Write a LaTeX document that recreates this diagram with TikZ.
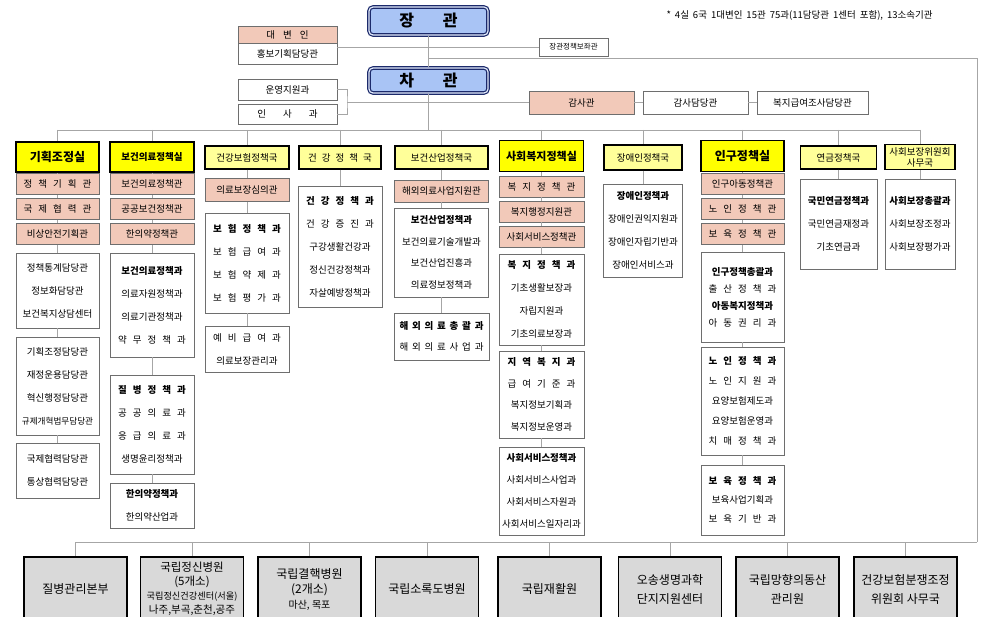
\documentclass[tikz,border=0pt]{standalone}
\usepackage{fontspec}
\setmainfont{Noto Sans CJK KR}
\usepackage{tikz}
\definecolor{salmonpink}{HTML}{F2C9B9}
\definecolor{brightyellow}{HTML}{FFFF00}
\definecolor{paleyellow}{HTML}{FFFF99}
\definecolor{chiefblue}{HTML}{A9C4F5}
\definecolor{chiefnavy}{HTML}{1C2A6B}
\definecolor{agencygray}{HTML}{D9D9D9}
\definecolor{linegray}{HTML}{A6A6A6}
\definecolor{boxgray}{HTML}{6E6E6E}
\newcommand\wsp[1]{\spaceskip #1\relax}
\tikzset{pitch/.style={font=\fontsize{9.5}{#1}\selectfont\wsp{6pt}}}

\begin{document}
\begin{tikzpicture}[x=1pt,y=-1pt,node distance=25pt]
\tikzstyle{conn}=[draw=linegray,line width=0.9pt]
\tikzstyle{chief}=[draw=chiefnavy,line width=1.2pt,double=chiefblue!35!white,double distance=1.2pt,
                   rounded corners=4pt,fill=chiefblue,minimum width=119,minimum height=28,
                   font=\bfseries\fontsize{16}{18}\selectfont]
\tikzstyle{office}=[draw=black,line width=1.6pt,fill=brightyellow,align=center,inner sep=1pt,
                    font=\bfseries\fontsize{12}{14}\selectfont]
\tikzstyle{bureau}=[draw=black,line width=1.3pt,fill=paleyellow,align=center,inner sep=1pt,
                    font=\fontsize{9.5}{10.5}\selectfont\wsp{5pt}]
\tikzstyle{salmon}=[draw=boxgray,line width=0.7pt,fill=salmonpink,inner sep=1pt,minimum height=21,
                    font=\fontsize{9.5}{11}\selectfont\wsp{6pt}]
\tikzstyle{dept}=[draw=boxgray,line width=0.8pt,fill=white,align=center,inner sep=1pt,
                  font=\fontsize{9.5}{23}\selectfont\wsp{6pt}]
\tikzstyle{agency}=[draw=black,line width=1.8pt,fill=agencygray,align=center,inner sep=1pt,
                    minimum width=103,minimum height=64,font=\fontsize{12}{15}\selectfont]
\useasboundingbox (0,0) rectangle (987,617);
\clip (0,0) rectangle (987,617);
\fill[white] (0,0) rectangle (987,617);

\node[chief] (jang) at (428.5,21) {장\hspace{1.8em}관};
\node[chief,minimum height=25] (cha) at (428.5,80.5) {차\hspace{1.8em}관};
\node[anchor=west,font=\fontsize{9.5}{11}\selectfont\wsp{4pt}] (note) at (663,15) {* 4실 6국 1대변인 15관 75과(11담당관 1센터 포함), 13소속기관};
\node[salmon,minimum width=99,minimum height=17,font=\fontsize{9.5}{11}\selectfont\wsp{8pt}] (spk) at (287.5,34.5) {대 변 인};
\node[dept,minimum width=99,minimum height=21] (pr) at (287.5,53.5) {홍보기획담당관};
\node[dept,minimum width=69,minimum height=18,font=\fontsize{7.5}{9}\selectfont] (aide) at (573.5,47) {장관정책보좌관};
\node[dept,minimum width=99,minimum height=21] (ops) at (287.5,89.5) {운영지원과};
\node[dept,minimum width=99,minimum height=20,font=\fontsize{9.5}{11}\selectfont\wsp{17pt}] (hr) at (287.5,114) {인 사 과};
\node[salmon,minimum width=105,minimum height=23] (audit) at (581.5,102.5) {감사관};
\node[dept,minimum width=105,minimum height=23] (auditoff) at (695.5,102.5) {감사담당관};
\node[dept,minimum width=111,minimum height=23] (fraud) at (812.5,102.5) {복지급여조사담당관};

\node[office,minimum width=83,minimum height=30] (h1) at (57.5,157) {기획조정실};
\node[salmon,minimum width=83] (c1a) at (57.5,184) {정 책 기 획 관};
\node[salmon,minimum width=83] (c1b) [below of=c1a] {국 제 협 력 관};
\node[salmon,minimum width=83] (c1c) [below of=c1b] {비상안전기획관};
\node[dept,minimum width=83,minimum height=75] (c1d) at (57.5,290.5) {정책통계담당관\\정보화담당관\\보건복지상담센터};
\node[dept,minimum width=83,minimum height=98] (c1e) at (57.5,386) {기획조정담당관\\재정운용담당관\\혁신행정담당관\\{\fontsize{8.6}{23}\selectfont 규제개혁법무담당관}};
\node[dept,minimum width=83,minimum height=55] (c1f) at (57.5,470.5) {국제협력담당관\\통상협력담당관};

\node[office,minimum width=84,minimum height=30,font=\bfseries\fontsize{9.5}{11}\selectfont] (h2) at (152,157) {보건의료정책실};
\node[salmon,minimum width=84] (c2a) at (152,184) {보건의료정책관};
\node[salmon,minimum width=84] (c2b) [below of=c2a] {공공보건정책관};
\node[salmon,minimum width=84] (c2c) [below of=c2b] {한의약정책관};
\node[dept,minimum width=84,minimum height=104] (c2d) at (152,305) {\textbf{보건의료정책과}\\의료자원정책과\\의료기관정책과\\약 무 정 책 과};
\node[dept,minimum width=84,minimum height=99] (c2e) at (152,424.5) {\textbf{질 병 정 책 과}\\공 공 의 료 과\\응 급 의 료 과\\생명윤리정책과};
\node[dept,minimum width=84,minimum height=45] (c2f) at (152,505.5) {\textbf{한의약정책과}\\한의약산업과};

\node[bureau,minimum width=84,minimum height=23] (h3) at (247,157.5) {건강보험정책국};
\node[salmon,minimum width=84,minimum height=23] (c3a) at (247,190) {의료보장심의관};
\node[dept,minimum width=84,minimum height=100] (c3b) at (247,263) {\textbf{보 험 정 책 과}\\보 험 급 여 과\\보 험 약 제 과\\보 험 평 가 과};
\node[dept,minimum width=84,minimum height=46] (c3c) at (247,349) {예 비 급 여 과\\의료보장관리과};

\node[bureau,minimum width=82,minimum height=23] (h4) at (340,157.5) {건 강 정 책 국};
\node[dept,minimum width=84,minimum height=121] (c4a) at (340,246.5) {\textbf{건 강 정 책 과}\\건 강 증 진 과\\구강생활건강과\\정신건강정책과\\자살예방정책과};

\node[bureau,minimum width=93,minimum height=23] (h5) at (441.5,157.5) {보건산업정책국};
\node[salmon,minimum width=94,minimum height=22] (c5a) at (441.5,191) {해외의료사업지원관};
\node[dept,minimum width=94,minimum height=89,pitch=21.5] (c5b) at (441.5,252.5) {\textbf{보건산업정책과}\\보건의료기술개발과\\보건산업진흥과\\의료정보정책과};
\node[dept,minimum width=95,minimum height=47,font=\fontsize{9.5}{21.5}\selectfont\wsp{3.8pt}] (c5c) at (441.5,336.5) {\textbf{해 외 의 료 총 괄 과}\\해 외 의 료 사 업 과};

\node[office,minimum width=84,minimum height=31,font=\bfseries\fontsize{11}{13}\selectfont] (h6) at (541.5,156) {사회복지정책실};
\node[salmon,minimum width=85] (c6a) at (541.5,186.5) {복 지 정 책 관};
\node[salmon,minimum width=85] (c6b) [below of=c6a] {복지행정지원관};
\node[salmon,minimum width=85] (c6c) [below of=c6b] {사회서비스정책관};
\node[dept,minimum width=85,minimum height=91] (c6d) at (541.5,299.5) {\textbf{복 지 정 책 과}\\기초생활보장과\\자립지원과\\기초의료보장과};
\node[dept,minimum width=85,minimum height=87,pitch=21.5] (c6e) at (541.5,394.5) {\textbf{지 역 복 지 과}\\급 여 기 준 과\\복지정보기획과\\복지정보운영과};
\node[dept,minimum width=85,minimum height=88,pitch=22] (c6f) at (541.5,491) {\textbf{사회서비스정책과}\\사회서비스사업과\\사회서비스자원과\\사회서비스일자리과};

\node[bureau,minimum width=78,minimum height=25] (h7) at (643,157.5) {장애인정책국};
\node[dept,minimum width=79,minimum height=93] (c7a) at (643,230.5) {\textbf{장애인정책과}\\장애인권익지원과\\장애인자립기반과\\장애인서비스과};

\node[office,minimum width=83,minimum height=31] (h8) at (742.5,156) {인구정책실};
\node[salmon,minimum width=83] (c8a) at (742.5,184) {인구아동정책관};
\node[salmon,minimum width=83] (c8b) [below of=c8a] {노 인 정 책 관};
\node[salmon,minimum width=83] (c8c) [below of=c8b] {보 육 정 책 관};
\node[dept,minimum width=83,minimum height=90,pitch=17] (c8d) at (742.5,297) {\textbf{인구정책총괄과}\\출 산 정 책 과\\\textbf{아동복지정책과}\\아 동 권 리 과};
\node[dept,minimum width=83,minimum height=108,pitch=20] (c8e) at (742.5,401) {\textbf{노 인 정 책 과}\\노 인 지 원 과\\요양보험제도과\\요양보험운영과\\치 매 정 책 과};
\node[dept,minimum width=83,minimum height=70,pitch=19] (c8f) at (742.5,500) {\textbf{보 육 정 책 과}\\보육사업기획과\\보 육 기 반 과};

\node[bureau,minimum width=76,minimum height=23] (h9) at (838.5,157.5) {연금정책국};
\node[dept,minimum width=77,minimum height=90] (c9a) at (838.5,224) {\textbf{국민연금정책과}\\국민연금재정과\\기초연금과};

\node[bureau,minimum width=70,minimum height=25,font=\fontsize{9.5}{11}\selectfont] (h10) at (920,157) {사회보장위원회\\사무국};
\node[dept,minimum width=70,minimum height=90] (c10a) at (920,224) {\textbf{사회보장총괄과}\\사회보장조정과\\사회보장평가과};

\node[agency] (b1) at (75.5,589) {질병관리본부};
\node[agency,font=\fontsize{11.5}{14}\selectfont] (b2) at (192,589) {국립정신병원\\(5개소)\\{\fontsize{9.2}{14}\selectfont 국립정신건강센터(서울)}\\{\fontsize{10.5}{14}\selectfont 나주,부곡,춘천,공주}};
\node[agency] (b3) at (309.5,589) {국립결핵병원\\(2개소)\\{\fontsize{10}{13}\selectfont 마산, 목포}};
\node[agency] (b4) at (427,589) {국립소록도병원};
\node[agency] (b5) at (549.5,589) {국립재활원};
\node[agency,font=\fontsize{12}{19}\selectfont] (b6) at (670,589) {오송생명과학\\단지지원센터};
\node[agency,font=\fontsize{12}{19}\selectfont] (b7) at (787.5,589) {국립망향의동산\\관리원};
\node[agency,font=\fontsize{12}{19}\selectfont] (b8) at (905.5,589) {건강보험분쟁조정\\위원회 사무국};

\coordinate (rt) at (977,58);
\coordinate (rb) at (977,542);
\coordinate (busl) at (57.5,130);
\coordinate (busr) at (920,130);
\coordinate (bkt) at (347,102.5);

\draw[conn] (jang) -- (cha);
\draw[conn] (cha) -- (cha |- busl);
\draw[conn] (pr.east |- aide) -- (aide);
\draw[conn] (jang |- rt) -- (rt) -- (rb);
\draw[conn] (ops) -| (bkt) |- (hr);
\draw[conn] (bkt) -- (audit) -- (auditoff) -- (fraud);
\draw[conn] (busl) -- (busr);
\foreach \h in {h1,h2,h3,h4,h5,h6,h7,h8,h9,h10}
  \draw[conn] (\h |- busl) -- (\h);
\draw[conn] (h1) -- (c1a) -- (c1b) -- (c1c) -- (c1d) -- (c1e) -- (c1f);
\draw[conn] (h2) -- (c2a) -- (c2b) -- (c2c) -- (c2d) -- (c2e) -- (c2f);
\draw[conn] (h3) -- (c3a) -- (c3b) -- (c3c);
\draw[conn] (h4) -- (c4a);
\draw[conn] (h5) -- (c5a) -- (c5b) -- (c5c);
\draw[conn] (h6) -- (c6a) -- (c6b) -- (c6c) -- (c6d) -- (c6e) -- (c6f);
\draw[conn] (h7) -- (c7a);
\draw[conn] (h8) -- (c8a) -- (c8b) -- (c8c) -- (c8d) -- (c8e) -- (c8f);
\draw[conn] (h9) -- (c9a);
\draw[conn] (h10) -- (c10a);
\draw[conn] (b1 |- rb) -- (rb);
\foreach \i in {1,...,8}
  \draw[conn] (b\i |- rb) -- (b\i);
\end{tikzpicture}
\end{document}
